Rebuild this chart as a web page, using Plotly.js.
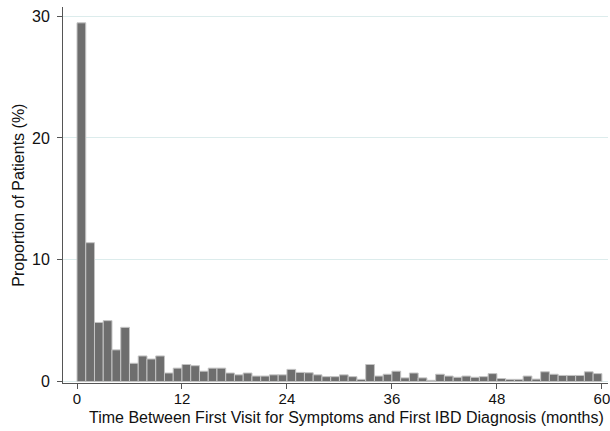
<!DOCTYPE html>
<html>
<head>
<meta charset="utf-8">
<script src="https://cdn.plot.ly/plotly-3.0.1.min.js"></script>
<style>html,body{margin:0;padding:0;background:#fff;}#chart{width:610px;height:431px;}</style>
</head>
<body>
<div id="chart"></div>
<script>
// Months since first visit (bin start, each bin is one month wide)
var months = [0,1,2,3,4,5,6,7,8,9,10,11,12,13,14,15,16,17,18,19,
              20,21,22,23,24,25,26,27,28,29,30,31,32,33,34,35,36,37,38,39,
              40,41,42,43,44,45,46,47,48,49,50,51,52,53,54,55,56,57,58,59];
// Proportion of patients (%)
var proportion = [29.45,11.4,4.85,5.0,2.6,4.45,1.5,2.1,1.85,2.1,
                  0.7,1.1,1.4,1.3,0.85,1.1,1.1,0.7,0.55,0.7,
                  0.45,0.45,0.55,0.55,1.0,0.75,0.72,0.55,0.4,0.4,
                  0.55,0.4,0.18,1.4,0.45,0.6,0.85,0.3,0.7,0.3,
                  0.1,0.6,0.45,0.35,0.45,0.35,0.4,0.65,0.25,0.18,
                  0.18,0.45,0.2,0.8,0.6,0.5,0.5,0.5,0.8,0.65];
var xTicks = [0,12,24,36,48,60];
var yTicks = [0,10,20,30];
var xTitle = "Time Between First Visit for Symptoms and First IBD Diagnosis (months)";
var yTitle = "Proportion of Patients (%)";

var font = "Liberation Sans, Arial, Helvetica, sans-serif";

var trace = {
  type: "bar",
  x: months,
  y: proportion,
  width: 1,
  offset: 0,
  marker: {color: "#6e6e6e", line: {color: "#c4c4c4", width: 1}},
  hoverinfo: "x+y"
};

var layout = {
  width: 610, height: 431,
  margin: {l: 63, r: 2, t: 7, b: 48},
  paper_bgcolor: "#ffffff",
  plot_bgcolor: "#ffffff",
  showlegend: false,
  bargap: 0,
  font: {family: font, size: 16, color: "#111"},
  xaxis: {
    range: [-1.6, 60.7],
    tickvals: xTicks,
    ticktext: xTicks.map(String),
    ticks: "outside", ticklen: 5, tickcolor: "#555", tickwidth: 1,
    showline: true, linecolor: "#555", linewidth: 1,
    showgrid: false, zeroline: false,
    tickfont: {family: font, size: 15, color: "#111"},
    ticklabelstandoff: -3,
    ticklabeloverflow: "allow"
  },
  yaxis: {
    range: [-0.12, 30.75],
    tickvals: yTicks,
    ticktext: yTicks.map(String),
    ticks: "outside", ticklen: 5, tickcolor: "#555", tickwidth: 1,
    showline: true, linecolor: "#555", linewidth: 1,
    showgrid: true, gridcolor: "#dcecec", gridwidth: 1,
    zeroline: false,
    tickfont: {family: font, size: 16, color: "#111"},
    ticklabelstandoff: 4
  },
  annotations: [
    {text: xTitle, xref: "paper", yref: "paper", x: 0.521, y: -0.091,
     xanchor: "center", yanchor: "middle", showarrow: false, borderpad: 0,
     font: {family: font, size: 16, color: "#111"}},
    {text: yTitle, xref: "paper", yref: "paper", x: -0.083, y: 0.5,
     xanchor: "center", yanchor: "middle", textangle: -90, showarrow: false,
     font: {family: font, size: 16, color: "#111"}}
  ]
};

Plotly.newPlot("chart", [trace], layout, {displayModeBar: false, staticPlot: true});
</script>
</body>
</html>
